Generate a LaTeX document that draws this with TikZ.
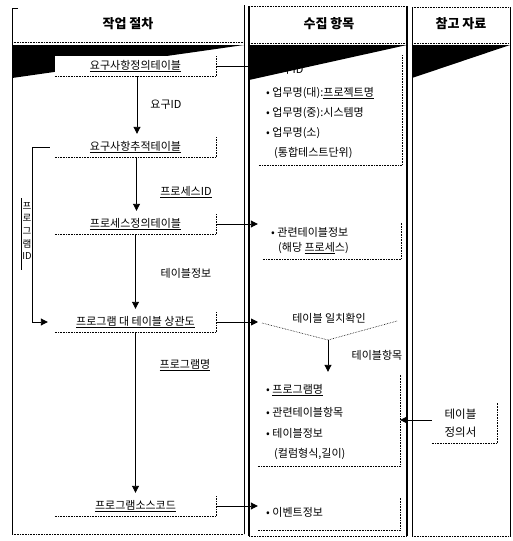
\documentclass[tikz,border=0pt]{standalone}
\usepackage{fontspec}
\setmainfont{Noto Sans CJK KR}
\usetikzlibrary{arrows.meta}
\begin{document}
\begin{tikzpicture}[x=1pt,y=-1pt,
  every node/.style={font=\fontsize{11}{13}\selectfont, inner sep=0pt},
  stepbox/.style={fill=white, minimum width=161pt, minimum height=20pt},
  dotl/.style={densely dotted, line width=0.6pt},
  colline/.style={line width=1pt},
  arr/.style={-{Triangle[length=7pt,width=7pt]}, line width=0.9pt},
  conn/.style={line width=0.9pt},
  hdr/.style={font=\fontsize{13}{15}\selectfont\bfseries},
  lbl/.style={font=\fontsize{11}{13}\selectfont},
  item/.style={anchor=west, font=\fontsize{11}{13}\selectfont},
]
\useasboundingbox (0,0) rectangle (512,541);

% wedges
\fill (12,45) -- (244,45) -- (12,78) -- cycle;
\fill (249,45) -- (407,45) -- (249,80) -- cycle;
\fill (412,45) -- (510,45) -- (412,78) -- cycle;

% column 1 frame
\draw[colline] (18,8) -- (12,8) -- (12,534);
\draw[dotl] (12,534) -- (244,534);
\draw[colline] (244,5) -- (244,534);
% column 2 frame
\draw[dotl] (249,6) -- (407,6);
\draw[line width=1.3pt] (249,6) -- (249,536);
\draw[line width=1.3pt] (407,6) -- (407,536);
\draw[dotl] (249,536) -- (407,536);
% column 3 frame
\draw[dotl] (412,7) -- (510,7);
\draw[colline] (412,7) -- (412,536);
\draw[colline] (510,7) -- (510,536);
\draw[dotl] (412,536) -- (510,536);

% header separators
\draw[dotl] (12,42) -- (244,42);
\draw[dotl] (249,43) -- (407,43);
\draw[dotl] (412,43) -- (510,43);

% headers
\node[hdr] (h1) at (128,24) {작업 절차};
\node[hdr] (h2) at (329,24) {수집 항목};
\node[hdr] (h3) at (461,24) {참고 자료};

% column 1 boxes
\node[stepbox] (b1) at (135.5,66) {\underline{요구사항정의테이블}};
\node[stepbox] (b2) at (135.5,147) {\underline{요구사항추적테이블}};
\node[stepbox] (b3) at (135.5,224) {\underline{프로세스정의테이블}};
\node[stepbox] (b4) at (135.5,322) {\underline{프로그램 대 테이블 상관도}};
\node[stepbox] (b5) at (135.5,506) {\underline{프로그램소스코드}};
\foreach \n in {b1,b2,b3,b4,b5}
  \draw[dotl] (\n.south west) -- (\n.south east) -- (\n.north east);

% vertical arrows
\draw[arr] ([xshift=1.5pt]b1.south) -- ([xshift=1.5pt,yshift=3pt]b2.north);
\draw[arr] ([xshift=1pt]b2.south) -- ([xshift=1pt,yshift=3pt]b3.north);
\draw[arr] (b3.south) -- ([yshift=3pt]b4.north);
\draw[arr] (b4.south) -- ([yshift=3pt]b5.north);

% arrow labels
\node[lbl] (l1) at (166,105) {요구ID};
\node[lbl] (l2) at (186,192) {\underline{프로세스ID}};
\node[lbl] (l3) at (186,273) {테이블정보};
\node[lbl] (l4) at (185,365) {\underline{프로그램명}};

% program ID bracket
\draw[arr] ([xshift=-5pt]b2.west) -- ++(-17,0) |- ([xshift=-7pt]b4.west);
\node[font=\fontsize{9.5}{12.5}\selectfont, align=center] (pid) at (27,231) {프\\로\\그\\램\\ID};
\draw[line width=0.6pt] (21,198) -- (21,270);

% column 2 boxes
\node[minimum width=143pt, minimum height=110pt] (cA) at (330.5,110) {};
\node[minimum width=138pt, minimum height=37pt] (cB) at (332,240.5) {};
\node[minimum width=142pt, minimum height=91pt] (cD) at (329,420.5) {};
\node[minimum width=142pt, minimum height=33pt] (cE) at (329,513.5) {};
\foreach \n in {cA,cB,cD,cE}
  \draw[dotl] (\n.south west) -- (\n.south east) -- (\n.north east);

\node[item] (a1) at (266,70) {• 요구ID};
\node[item] (a2) at (266,93) {• 업무명(대):\underline{프로젝트명}};
\node[item] (a3) at (266,113) {• 업무명(중):시스템명};
\node[item] (a4) at (266,133) {• 업무명(소)};
\node[item] (a5) at (274,153) {(통합테스트단위)};

\node[item] (bb1) at (271,232) {• 관련테이블정보};
\node[item] (bb2) at (278,248) {(해당 \underline{프로세}스)};

% table match check
\coordinate (v1) at (262,323);
\coordinate (v2) at (328,340);
\coordinate (v3) at (397,321);
\draw[dotl] (v1) -- (v2) -- (v3);
\node[lbl] (tm) at (329,318) {테이블 일치확인};
\draw[arr] (v2) -- ([yshift=3pt]v2 |- cD.north);
\node[lbl] (l5) at (377,355) {테이블항목};

\node[item] (d1) at (266,390) {• \underline{프로그램명}};
\node[item] (d2) at (266,412) {• 관련테이블항목};
\node[item] (d3) at (266,433) {• 테이블정보};
\node[item] (d4) at (274,454) {(컬럼형식,길이)};

\node[item] (e1) at (266,512) {• 이벤트정보};

% column 3 box
\node[minimum width=65pt, minimum height=40pt] (cF) at (464.5,423) {};
\draw[dotl] (cF.south west) -- (cF.south east) -- (cF.north east);
\node[lbl, align=center, font=\fontsize{11.5}{18}\selectfont] (ft) at (460.5,423) {테이블\\정의서};

% horizontal connectors
\coordinate (c2l) at (249,66);
\draw[conn] (b1.east) -- (c2l);
\draw[arr, shorten >=5pt] (b3.east) -- (b3.east -| cB.west);
\draw[arr, shorten >=4pt] (b4.east) -- (b4.east -| v1);
\draw[arr, shorten >=0pt] (b5.east) -- (b5.east -| cE.west);
\draw[arr] ([yshift=3pt]cF.west) -- ([yshift=3pt]cF.west -| cD.east);
\end{tikzpicture}
\end{document}
